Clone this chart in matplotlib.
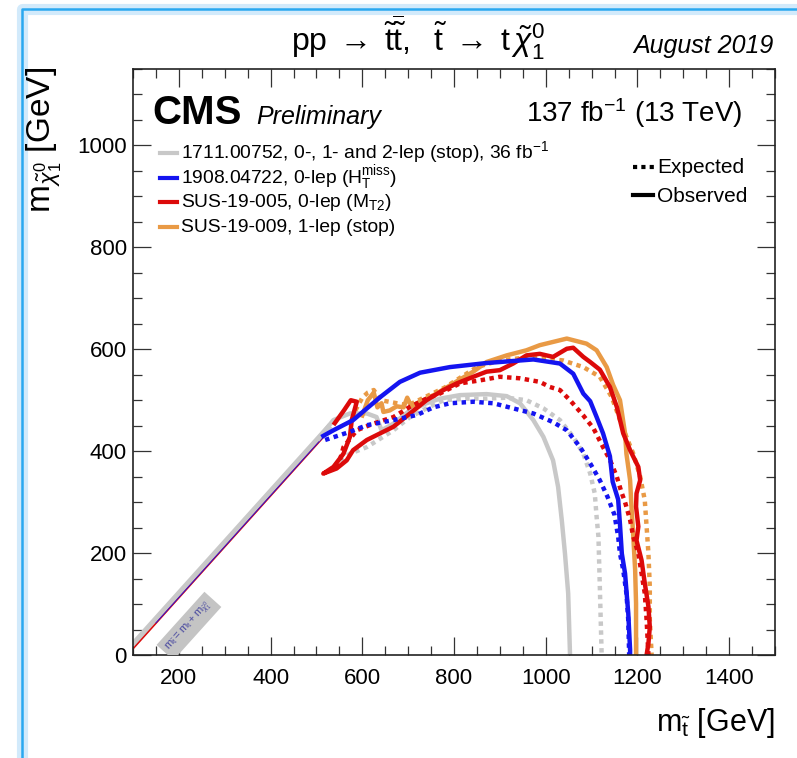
import matplotlib
import numpy as np

matplotlib.use("Agg")

import matplotlib.pyplot as plt
from matplotlib.lines import Line2D

plt.rcParams["font.family"] = ["Liberation Sans", "DejaVu Sans"]
plt.rcParams["mathtext.fontset"] = "custom"
plt.rcParams["mathtext.rm"] = "Liberation Sans"
plt.rcParams["mathtext.it"] = "Liberation Sans:italic"
plt.rcParams["mathtext.bf"] = "Liberation Sans:bold"
plt.rcParams["mathtext.sf"] = "Liberation Sans"

# --- limit contours (m_stop, m_lsp) in GeV ---
gray_obs_x = [505, 537, 573, 610, 631, 642, 668, 704, 740, 769, 813, 871, 915, 944, 973, 995, 1016, 1027, 1035, 1042, 1049, 1053]
gray_obs_y = [425, 461, 474, 474, 467, 441, 454, 480, 494, 503, 510, 512, 508, 494, 461, 428, 382, 330, 265, 199, 121, 0]
gray_exp_x = [551, 573, 610, 668, 704, 740, 777, 828, 871, 915, 958, 995, 1031, 1060, 1082, 1097, 1107, 1111, 1115, 1118, 1122]
gray_exp_y = [382, 395, 408, 441, 467, 484, 500, 503, 503, 505, 500, 484, 461, 428, 395, 356, 317, 271, 232, 134, 0]

blue_obs_x = [515, 537, 580, 639, 682, 726, 791, 871, 973, 1031, 1060, 1082, 1097, 1111, 1125, 1140, 1146, 1158, 1162, 1166, 1173, 1180, 1184, 1184]
blue_obs_y = [430, 441, 461, 506, 536, 554, 565, 573, 580, 572, 552, 513, 498, 467, 435, 390, 340, 305, 255, 199, 160, 82, 10, 0]
blue_exp_x = [519, 573, 610, 668, 719, 755, 791, 842, 886, 929, 973, 1016, 1046, 1075, 1097, 1118, 1135, 1150, 1158, 1162, 1169, 1176, 1180, 1182]
blue_exp_y = [422, 438, 451, 461, 471, 486, 494, 497, 494, 484, 474, 457, 441, 408, 376, 343, 310, 275, 232, 199, 167, 121, 69, 0]

red_obs_x = [540, 560, 575, 588, 577, 573, 559, 537, 515, 544, 566, 580, 610, 639, 668, 704, 740, 777, 806, 842, 871, 900, 929, 958, 987, 1016, 1046, 1060, 1082, 1097, 1118, 1140, 1155, 1162, 1169, 1184, 1202, 1206, 1198, 1197, 1202, 1198, 1209, 1216, 1224, 1227, 1224, 1220]
red_obs_y = [455, 480, 500, 497, 461, 428, 395, 369, 356, 366, 382, 402, 422, 435, 448, 474, 500, 520, 533, 546, 556, 559, 572, 588, 591, 585, 601, 603, 585, 575, 560, 526, 487, 461, 435, 402, 369, 343, 317, 291, 252, 225, 186, 141, 95, 55, 23, 0]
red_exp_x = [540, 551, 559, 588, 624, 668, 704, 740, 769, 813, 857, 900, 944, 987, 1009, 1031, 1053, 1082, 1104, 1125, 1140, 1155, 1165, 1173, 1184, 1191, 1202, 1209, 1216, 1220, 1224]
red_exp_y = [370, 382, 408, 441, 454, 467, 487, 503, 513, 533, 539, 546, 543, 536, 526, 520, 500, 470, 445, 408, 383, 350, 320, 300, 265, 232, 199, 160, 121, 69, 0]

orange_obs_x = [600, 612, 625, 633, 642, 646, 660, 675, 690, 698, 707, 719, 760, 806, 842, 871, 915, 958, 987, 1046, 1089, 1111, 1133, 1147, 1162, 1173, 1176, 1184, 1187, 1191, 1195, 1197, 1197]
orange_obs_y = [470, 500, 515, 486, 494, 477, 480, 488, 486, 505, 488, 494, 512, 537, 556, 575, 588, 598, 608, 621, 611, 598, 565, 530, 500, 435, 395, 343, 291, 232, 167, 101, 0]
orange_exp_x = [585, 600, 612, 625, 640, 700, 780, 850, 900, 950, 1000, 1038, 1082, 1118, 1144, 1162, 1176, 1191, 1206, 1216, 1220, 1224, 1227, 1227, 1231]
orange_exp_y = [480, 505, 515, 520, 500, 490, 525, 565, 578, 583, 582, 578, 565, 546, 506, 461, 428, 395, 350, 304, 252, 199, 134, 69, 0]

# kinematic diagonal
diag_gray_x = [100, 530]
diag_gray_y = [20, 450]
diag_red_x = [100, 525]
diag_red_y = [12, 437]
diag_blue_x = [150, 515]
diag_blue_y = [63, 428]

legend_labels = [
    r"1711.00752, 0-, 1- and 2-lep (stop), 36 fb$^{-1}$",
    r"1908.04722, 0-lep (H$_{\mathrm{T}}^{\mathrm{miss}}$)",
    r"SUS-19-005, 0-lep (M$_{\mathrm{T2}}$)",
    r"SUS-19-009, 1-lep (stop)",
]

GRAY = "#c8c8c8"
BLUE = "#1414f0"
RED = "#dc0a0a"
ORANGE = "#e99a45"
legend_colors = [GRAY, BLUE, RED, ORANGE]

W, H = 797, 758


def fx(px):
    return px / W


def fy(py):
    return 1 - py / H


fig = plt.figure(figsize=(W / 100, H / 100), dpi=100)
ax = fig.add_axes([fx(133), fy(655), (775 - 133) / W, (655 - 69) / H])

solid_lw = 3.2
dot_style = (0, (1, 1))

ax.plot(diag_gray_x, diag_gray_y, color=GRAY, lw=4.5, solid_capstyle="butt")
ax.plot(diag_red_x, diag_red_y, color=RED, lw=1.1)
ax.plot(diag_blue_x, diag_blue_y, color=BLUE, lw=0.6)

ax.plot(gray_exp_x, gray_exp_y, color=GRAY, lw=solid_lw, ls=dot_style)
ax.plot(gray_obs_x, gray_obs_y, color=GRAY, lw=solid_lw)
ax.plot(orange_exp_x, orange_exp_y, color=ORANGE, lw=solid_lw, ls=dot_style)
ax.plot(orange_obs_x, orange_obs_y, color=ORANGE, lw=solid_lw)
ax.plot(red_exp_x, red_exp_y, color=RED, lw=solid_lw, ls=dot_style)
ax.plot(red_obs_x, red_obs_y, color=RED, lw=solid_lw)
ax.plot(blue_exp_x, blue_exp_y, color=BLUE, lw=solid_lw, ls=dot_style)
ax.plot(blue_obs_x, blue_obs_y, color=BLUE, lw=solid_lw)

ax.text(222, 57, r"$\mathrm{m}_{\tilde{\mathrm{t}}} = \mathrm{m}_{\mathrm{t}} + \mathrm{m}_{\tilde{\chi}^{0}_{1}}$",
        rotation=48, ha="center", va="center", fontsize=8, color="#4a4aa0",
        bbox=dict(boxstyle="square,pad=0.4", fc="#c4c4c4", ec="none"), clip_on=True)

ax.set_xlim(100, 1500)
ax.set_ylim(0, 1150)
ax.set_xticks(np.arange(200, 1401, 200))
ax.set_yticks(np.arange(0, 1001, 200))
ax.set_xticks(np.arange(100, 1501, 50), minor=True)
ax.set_yticks(np.arange(0, 1151, 50), minor=True)
ax.tick_params(which="both", direction="in", top=True, right=True, width=0.9, color="#333333")
ax.tick_params(which="major", length=13, labelsize=16)
ax.tick_params(axis="x", which="major", pad=9.5)
ax.tick_params(axis="y", which="major", pad=4.5)
ax.tick_params(which="minor", length=6.7)
for sp in ax.spines.values():
    sp.set_linewidth(1.2)
    sp.set_color("#222222")

# header texts
fig.text(fx(418), fy(51), r"$\mathrm{pp}\;\rightarrow\;\tilde{\mathrm{t}}\overline{\tilde{\mathrm{t}}},\ \ \tilde{\mathrm{t}}\;\rightarrow\;\mathrm{t}\,\tilde{\chi}^{0}_{1}$",
         ha="center", va="baseline", fontsize=23)
fig.text(fx(773), fy(53), "August 2019", ha="right", va="baseline", fontsize=18, style="italic")
fig.text(fx(152), fy(124), "CMS", ha="left", va="baseline", fontsize=29, weight="bold")
fig.text(fx(256), fy(124), "Preliminary", ha="left", va="baseline", fontsize=18, style="italic")
fig.text(fx(742), fy(122), r"137 fb$^{-1}$ (13 TeV)", ha="right", va="baseline", fontsize=20)

# analysis legend
row_base = [158, 183, 207, 232]
for label, color, yb in zip(legend_labels, legend_colors, row_base):
    fig.add_artist(Line2D([fx(160), fx(177)], [fy(yb - 5.5), fy(yb - 5.5)], color=color, lw=3.0))
    fig.text(fx(181), fy(yb), label, ha="left", va="baseline", fontsize=13.9)

# expected / observed legend
fig.add_artist(Line2D([fx(633), fx(654)], [fy(167), fy(167)], color="black", lw=3.0, ls=dot_style))
fig.text(fx(657), fy(173), "Expected", ha="left", va="baseline", fontsize=15)
fig.add_artist(Line2D([fx(633), fx(653)], [fy(195), fy(195)], color="black", lw=3.0))
fig.text(fx(657), fy(202), "Observed", ha="left", va="baseline", fontsize=15)

# axis titles
fig.text(fx(44), fy(67), r"$\mathrm{m}_{\tilde{\chi}^{0}_{1}}$ [GeV]", rotation=90, ha="center", va="top", fontsize=24)
fig.text(fx(775), fy(731), r"$\mathrm{m}_{\tilde{\mathrm{t}}}$ [GeV]", ha="right", va="baseline", fontsize=22)

# screenshot selection frame
fig.add_artist(Line2D([fx(22), fx(22), fx(797)], [fy(758), fy(9), fy(9)], color="#d2eafb", lw=8))
fig.add_artist(Line2D([fx(22), fx(22), fx(797)], [fy(758), fy(9), fy(9)], color="#2aa8f0", lw=1.8))

fig.savefig("out.png", dpi=100)
plt.close(fig)
